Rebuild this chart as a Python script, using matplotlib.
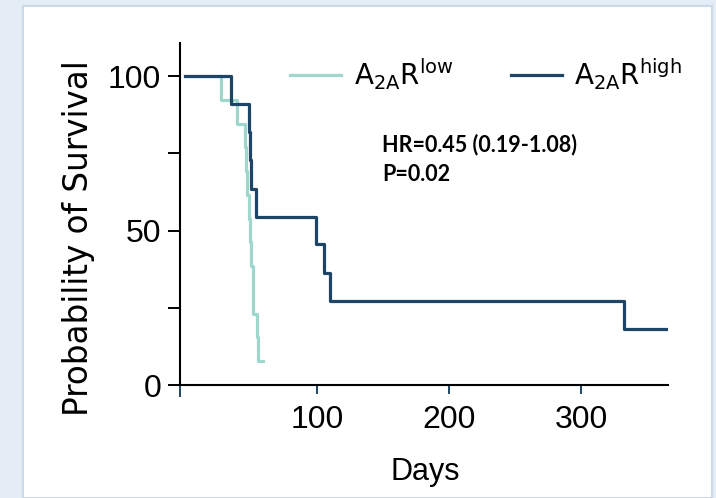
import numpy as np
import matplotlib
matplotlib.use("Agg")
import matplotlib.pyplot as plt
from matplotlib.patches import Rectangle

# Kaplan-Meier steps (days, % surviving)
high_days = [0, 35, 48.5, 49, 49.5, 53.5, 99, 105, 109.5, 332, 365.5]
high_surv = [100, 90.9, 81.8, 72.7, 63.6, 54.5, 45.5, 36.4, 27.3, 18.2, 18.2]

low_days = [0, 27, 39, 45, 46, 47, 48, 49, 50, 51, 51.5, 54.5, 55, 59]
low_surv = [100, 92.3, 84.6, 76.9, 69.2, 61.5, 53.8, 46.2, 38.5, 30.8, 23.1, 15.4, 7.7, 7.7]

low_label = r"A$_{2A}$R$^{low}$"
high_label = r"A$_{2A}$R$^{high}$"
stats_text = "HR=0.45 (0.19-1.08)\nP=0.02"

c_low = "#9fd6cd"
c_high = "#1e4566"

plt.rcParams["mathtext.default"] = "regular"

W, H = 716, 498
fig = plt.figure(figsize=(W / 100, H / 100), dpi=100, facecolor="#e4ecf5")
fig.patches.append(Rectangle((23 / W, 0), (712 - 23) / W, (H - 6) / H,
                             transform=fig.transFigure, facecolor="white",
                             edgecolor="#cbdaea", linewidth=1.5, zorder=-5))

ax = fig.add_axes([180 / W, (H - 385) / H, (668 - 180) / W, (385 - 43) / H])
ax.set_facecolor("none")

ax.step(low_days, low_surv, where="post", color=c_low, lw=2.3, label=low_label)
ax.step(high_days, high_surv, where="post", color=c_high, lw=2.3, label=high_label)

ax.set_xlim(-4, 365.7)
ax.set_ylim(0, 110.7)

for side in ["top", "right"]:
    ax.spines[side].set_visible(False)
for side in ["left", "bottom"]:
    ax.spines[side].set_linewidth(1.5)

tick_font = "Liberation Sans"

ax.set_yticks([0, 50, 100])
ax.set_yticks([25, 75], minor=True)
ax.tick_params(axis="y", which="both", length=8.6, width=1.4, pad=5)
ax.set_xticks([-4, 100, 200, 300])
ax.set_xticklabels(["", "100", "200", "300"])
ax.tick_params(axis="x", length=6.5, width=1.4, pad=8, color=c_high)
xt = ax.xaxis.get_major_ticks()[0]
xt.tick1line.set_color("black")
xt.tick1line.set_markersize(8.6)

for lab in ax.get_xticklabels() + ax.get_yticklabels():
    lab.set_family(tick_font)
    lab.set_fontsize(23)

ax.set_xlabel("Days", family=tick_font, fontsize=22)
ax.xaxis.set_label_coords(0.502, -0.21)
ax.set_ylabel("Probability of Survival", family="DejaVu Sans", fontsize=23.5)
ax.yaxis.set_label_coords(-0.174, 0.43)

ax.legend(loc="center left", bbox_to_anchor=(290 / W, 1 - 74 / H),
          bbox_transform=fig.transFigure, ncol=2, frameon=False,
          borderpad=0, borderaxespad=0, handlelength=1.85, handletextpad=0.45,
          columnspacing=2.05, prop={"family": "DejaVu Sans", "size": 20})

fig.text(382 / W, 1 - 134 / H, stats_text, ha="left", va="top",
         family="Lato", weight="bold", fontsize=15.5, linespacing=1.5)

fig.savefig("out.png", dpi=100, facecolor=fig.get_facecolor())
